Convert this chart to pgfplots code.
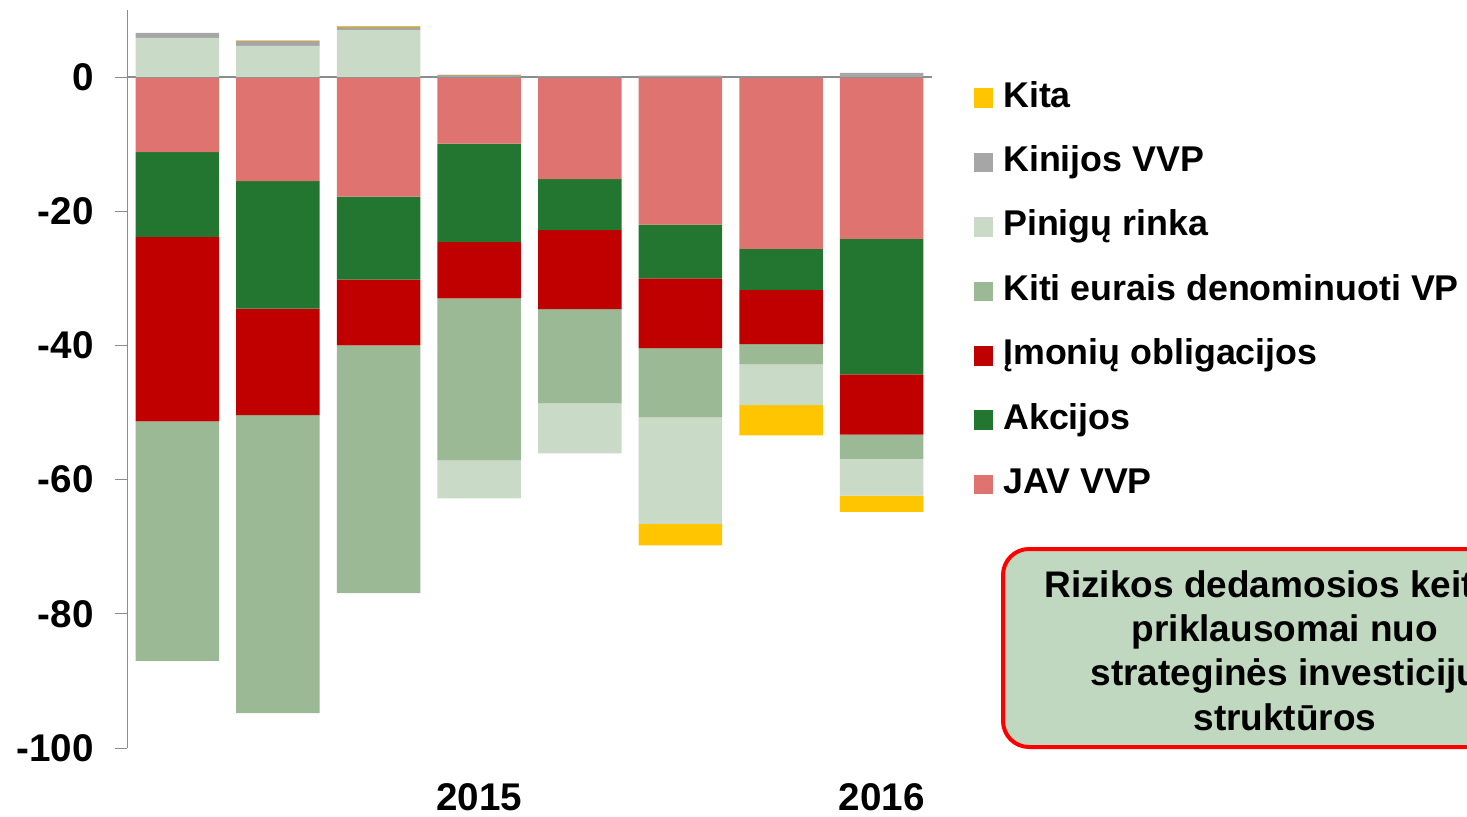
\documentclass[border=0pt]{standalone}
\usepackage{fontspec}
\setmainfont{Liberation Sans}
\usepackage{pgfplots}
\usepackage{pgfplotstable}
\pgfplotsset{compat=1.18}
\definecolor{kitaC}{HTML}{FFC600}
\definecolor{kinC}{HTML}{A6A6A6}
\definecolor{pinC}{HTML}{C9DAC6}
\definecolor{kitiC}{HTML}{9AB994}
\definecolor{imC}{HTML}{C00000}
\definecolor{akcC}{HTML}{237630}
\definecolor{javC}{HTML}{DF7370}
\definecolor{boxC}{HTML}{C0D8BF}
\definecolor{axC}{HTML}{8C8C8C}

\pgfplotstableread{
x jav akc imon kiti pinneg kitaneg
0 -11.2 -12.6 -27.5 -35.7 0 0
1 -15.5 -19.0 -15.9 -44.4 0 0
2 -17.8 -12.4 -9.8 -36.9 0 0
3 -9.9 -14.7 -8.4 -24.1 -5.7 0
4 -15.2 -7.6 -11.8 -14.0 -7.5 0
5 -22.0 -8.0 -10.4 -10.3 -15.9 -3.2
6 -25.6 -6.1 -8.1 -3.0 -6.1 -4.5
7 -24.1 -20.2 -9.0 -3.6 -5.5 -2.4
}\negdata

\pgfplotstableread{
x pin kin kita
0 5.85 0.75 0
1 4.66 0.74 0.08
2 7.0 0.5 0.08
3 0 0.3 0.08
4 0 0.1 0
5 0 0.2 0
6 0 0.05 0
7 0 0.64 0
}\posdata

\pgfplotsset{
  base/.style={
    scale only axis, width=402.5pt, height=369pt,
    at={(63.5pt,34pt)}, anchor=south west,
    xmin=-0.5, xmax=7.5, ymin=-100, ymax=10,
    ybar stacked, bar width=0.83,
  },
  sq/.style={legend image code/.code={\fill[#1] (0pt,-4.65pt) rectangle (9.3pt,4.65pt);}},
}

\begin{document}
\begin{tikzpicture}
\useasboundingbox (0,0) rectangle (733.5pt,408pt);
\clip (0,0) rectangle (733.5pt,408pt);

\begin{axis}[base,
  axis lines*=left,
  x axis line style={draw=none},
  y axis line style={axC, line width=0.5pt},
  ytick={-100,-80,-60,-40,-20,0},
  yticklabels={-100,-80,-60,-40,-20,0},
  xtick={3,7}, xticklabels={2015,2016},
  tick align=outside, major tick length=6pt,
  ytick style={axC, line width=0.5pt},
  xtick style={draw=none},
  ticklabel style={font=\bfseries\fontsize{19.3}{22}\selectfont},
  xticklabel style={inner sep=0pt, anchor=north, yshift=-11.5pt},
  yticklabel style={inner sep=0pt, anchor=east, xshift=-10.5pt},
  legend cell align=left,
  legend style={draw=none, fill=none, inner sep=0pt, outer sep=0pt,
    at={(1.052,0.9038)}, anchor=north west,
    font=\bfseries\fontsize{17.9}{21}\selectfont,
    row sep=15.2pt, column sep=5pt,
    nodes={inner sep=0pt, text height=13pt, text depth=4pt}},
]
\addlegendimage{sq=kitaC}\addlegendentry{Kita}
\addlegendimage{sq=kinC}\addlegendentry{Kinijos VVP}
\addlegendimage{sq=pinC}\addlegendentry{Pinigų rinka}
\addlegendimage{sq=kitiC}\addlegendentry{Kiti eurais denominuoti VP}
\addlegendimage{sq=imC}\addlegendentry{Įmonių obligacijos}
\addlegendimage{sq=akcC}\addlegendentry{Akcijos}
\addlegendimage{sq=javC}\addlegendentry{JAV VVP}
\addplot[fill=javC, draw=none] table[x=x,y=jav]{\negdata};
\addplot[fill=akcC, draw=none] table[x=x,y=akc]{\negdata};
\addplot[fill=imC, draw=none] table[x=x,y=imon]{\negdata};
\addplot[fill=kitiC, draw=none] table[x=x,y=kiti]{\negdata};
\addplot[fill=pinC, draw=none] table[x=x,y=pinneg]{\negdata};
\addplot[fill=kitaC, draw=none] table[x=x,y=kitaneg]{\negdata};
\end{axis}

\begin{axis}[base, hide axis]
\addplot[fill=pinC, draw=none] table[x=x,y=pin]{\posdata};
\addplot[fill=kinC, draw=none] table[x=x,y=kin]{\posdata};
\addplot[fill=kitaC, draw=none] table[x=x,y=kita]{\posdata};
\draw[axC, line width=0.75pt] (axis cs:-0.5,0) -- (axis cs:7.5,0);
\end{axis}

\draw[red, line width=2pt, fill=boxC, rounded corners=13pt]
  (501.5pt,34.5pt) rectangle (783.5pt,133.5pt);
\node[align=center, inner sep=0pt, font=\bfseries\fontsize{18.5}{22.2}\selectfont]
  at (642.5pt,82.8pt)
  {Rizikos dedamosios keitėsi\\priklausomai nuo\\strateginės investicijų\\struktūros};
\end{tikzpicture}
\end{document}
